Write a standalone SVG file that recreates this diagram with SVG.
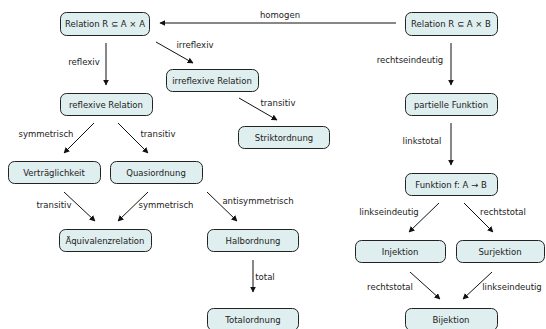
<svg xmlns="http://www.w3.org/2000/svg" width="546" height="329" viewBox="0 0 546 329">
<style>
.n rect{fill:#dfeeee;stroke:#222;stroke-width:1}
text{font-family:"DejaVu Sans",sans-serif;font-size:8.5px;fill:#222}
.n text{text-anchor:middle}
.c line{stroke:#111;stroke-width:1;marker-end:url(#a)}
</style>
<defs>
<marker id="a" viewBox="0 0 10 10" refX="9" refY="5" markerWidth="6" markerHeight="6" orient="auto" markerUnits="userSpaceOnUse"><path d="M0,0L10,5L0,10z" fill="#111"/></marker>
</defs>
<rect width="546" height="329" fill="#fff"/>
<g class="c">
<line x1="396" y1="23" x2="160" y2="23"/>
<line x1="106" y1="43" x2="106" y2="85"/>
<line x1="156" y1="42" x2="193" y2="63"/>
<line x1="239" y1="98" x2="277" y2="120"/>
<line x1="94" y1="123" x2="64" y2="153"/>
<line x1="118" y1="123" x2="148" y2="153"/>
<line x1="64" y1="192" x2="95" y2="221"/>
<line x1="148" y1="192" x2="118" y2="221"/>
<line x1="207" y1="192" x2="237" y2="221"/>
<line x1="253" y1="260" x2="253" y2="292"/>
<line x1="451" y1="43" x2="451" y2="85"/>
<line x1="451" y1="123" x2="451" y2="165"/>
<line x1="439" y1="203" x2="409" y2="232"/>
<line x1="464" y1="203" x2="493" y2="232"/>
<line x1="410" y1="272" x2="440" y2="299"/>
<line x1="492" y1="272" x2="463" y2="299"/>
<text x="280" y="18" text-anchor="middle">homogen</text>
<text x="84" y="65" text-anchor="middle">reflexiv</text>
<text x="195" y="48" text-anchor="middle">irreflexiv</text>
<text x="278" y="106" text-anchor="middle">transitiv</text>
<text x="46" y="137" text-anchor="middle">symmetrisch</text>
<text x="158" y="137" text-anchor="middle">transitiv</text>
<text x="54" y="208" text-anchor="middle">transitiv</text>
<text x="166" y="208" text-anchor="middle">symmetrisch</text>
<text x="258" y="204" text-anchor="middle">antisymmetrisch</text>
<text x="265" y="280" text-anchor="middle">total</text>
<text x="410" y="63" text-anchor="middle">rechtseindeutig</text>
<text x="422" y="144" text-anchor="middle">linkstotal</text>
<text x="389" y="215" text-anchor="middle">linkseindeutig</text>
<text x="503" y="215" text-anchor="middle">rechtstotal</text>
<text x="390" y="290" text-anchor="middle">rechtstotal</text>
<text x="512" y="290" text-anchor="middle">linkseindeutig</text>
</g>
<g class="n" id="relAA"><rect x="60.5" y="12.5" width="89" height="23" rx="6"/><text x="105" y="27">Relation R ⊆ A × A</text></g>
<g class="n" id="relAB"><rect x="405.5" y="12.5" width="92" height="23" rx="6"/><text x="451" y="27">Relation R ⊆ A × B</text></g>
<g class="n" id="irrefl"><rect x="166.5" y="69.5" width="92" height="22" rx="6"/><text x="212" y="84">irreflexive Relation</text></g>
<g class="n" id="refl"><rect x="60.5" y="93.5" width="92" height="22" rx="6"/><text x="106" y="108">reflexive Relation</text></g>
<g class="n" id="strikt"><rect x="238.5" y="126.5" width="91" height="22" rx="6"/><text x="284" y="141">Striktordnung</text></g>
<g class="n" id="partiell"><rect x="405.5" y="93.5" width="92" height="22" rx="6"/><text x="451" y="108">partielle Funktion</text></g>
<g class="n" id="vertr"><rect x="8.5" y="161.5" width="92" height="22" rx="6"/><text x="54" y="176">Verträglichkeit</text></g>
<g class="n" id="quasi"><rect x="110.5" y="161.5" width="92" height="22" rx="6"/><text x="156" y="176">Quasiordnung</text></g>
<g class="n" id="funktion"><rect x="405.5" y="173.5" width="92" height="22" rx="6"/><text x="451" y="188">Funktion f: A → B</text></g>
<g class="n" id="aequiv"><rect x="59.5" y="229.5" width="92" height="22" rx="6"/><text x="105" y="244">Äquivalenzrelation</text></g>
<g class="n" id="halb"><rect x="207.5" y="229.5" width="91" height="22" rx="6"/><text x="253" y="244">Halbordnung</text></g>
<g class="n" id="inj"><rect x="355.5" y="240.5" width="90" height="22" rx="6"/><text x="400" y="255">Injektion</text></g>
<g class="n" id="surj"><rect x="456.5" y="240.5" width="88" height="22" rx="6"/><text x="500" y="255">Surjektion</text></g>
<g class="n" id="total"><rect x="207.5" y="308.5" width="91" height="22" rx="6"/><text x="253" y="323">Totalordnung</text></g>
<g class="n" id="bij"><rect x="405.5" y="308.5" width="92" height="22" rx="6"/><text x="451" y="323">Bijektion</text></g>
</svg>
